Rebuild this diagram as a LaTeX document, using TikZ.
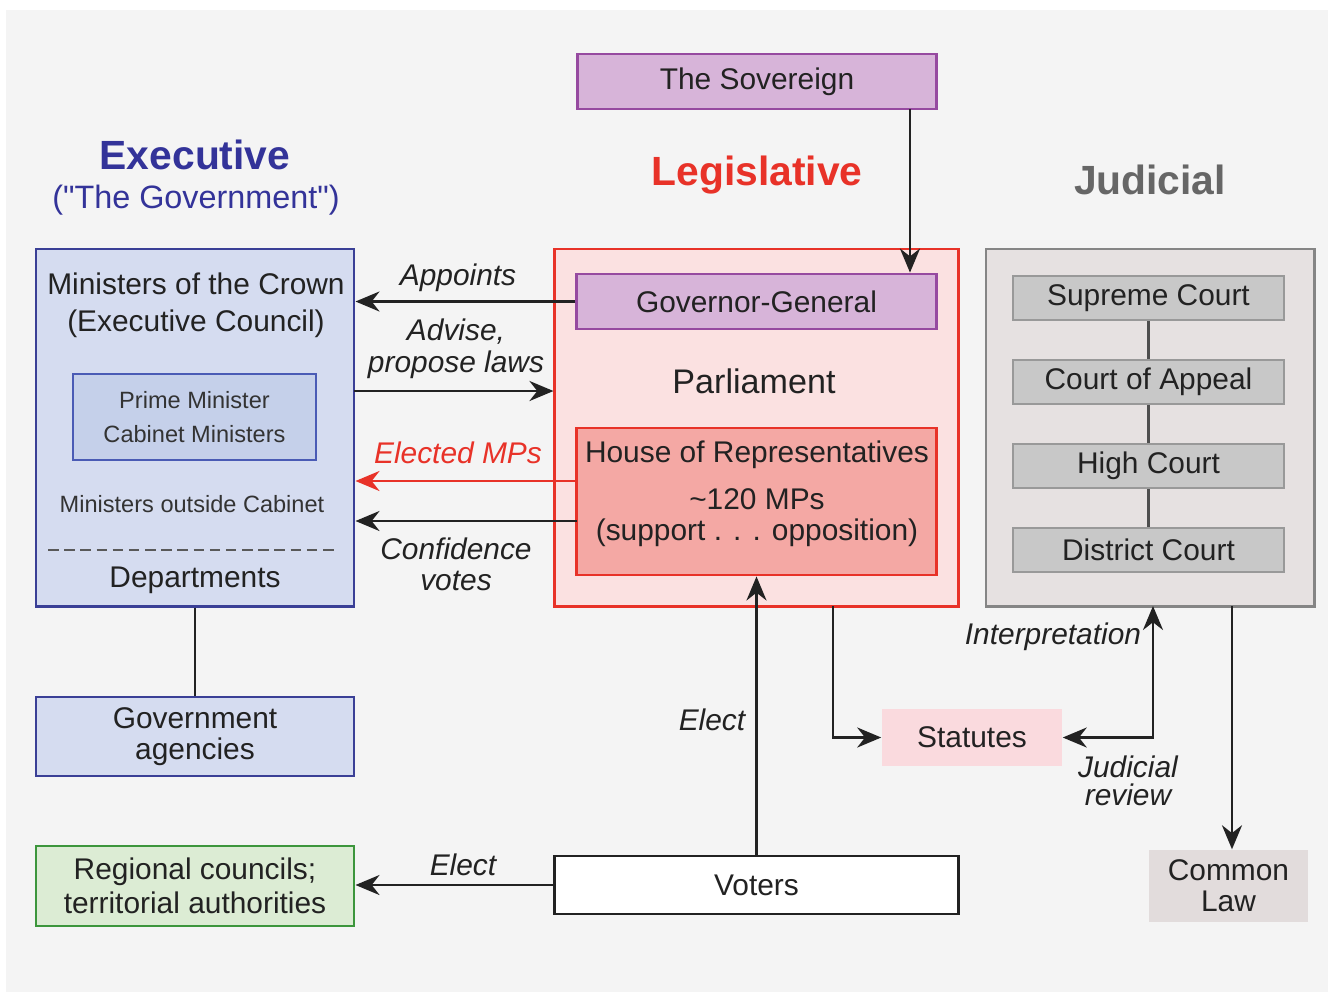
\documentclass[tikz,border=0pt]{standalone}
\usepackage{fontspec}
\setmainfont{Liberation Sans}
\newfontfamily\plainquotes{Liberation Sans}[Ligatures=TeXOff]
\usetikzlibrary{arrows.meta}

\definecolor{pagegrey}{HTML}{F4F4F4}
\definecolor{execfill}{HTML}{D5DCF0}
\definecolor{execline}{HTML}{3A3F96}
\definecolor{cabfill}{HTML}{C5D0EA}
\definecolor{cabline}{HTML}{4A5BB5}
\definecolor{royfill}{HTML}{D7B4D9}
\definecolor{royline}{HTML}{964AA0}
\definecolor{parlfill}{HTML}{FBE1E1}
\definecolor{parlred}{HTML}{E83228}
\definecolor{horfill}{HTML}{F4A8A4}
\definecolor{judfill}{HTML}{E6E1E1}
\definecolor{judline}{HTML}{858585}
\definecolor{courtfill}{HTML}{C8C8C8}
\definecolor{courtline}{HTML}{999999}
\definecolor{statfill}{HTML}{FADADE}
\definecolor{lawfill}{HTML}{E2DCDC}
\definecolor{regfill}{HTML}{DCECD4}
\definecolor{regline}{HTML}{3C963C}
\definecolor{titleblue}{HTML}{333399}
\definecolor{titlegrey}{HTML}{666666}
\definecolor{ink}{HTML}{222222}

\begin{document}
\begin{tikzpicture}[x=0.01cm, y=-0.01cm, >={Stealth[length=2.4mm,width=2mm]},
  every node/.style={font=\fontsize{8.5}{8.8}\selectfont, align=center, text=ink, inner sep=0pt},
  box/.style={draw, thick},
  court/.style={draw=courtline, fill=courtfill, thick, minimum width=2.71cm, minimum height=0.44cm},
  lab/.style={font=\fontsize{8.5}{8.8}\selectfont\itshape},
  small/.style={font=\fontsize{6.7}{9.9}\selectfont, text=black!80},
  heading/.style={font=\fontsize{11.6}{12}\selectfont\bfseries},
  conn/.style={->, line width=0.8pt, draw=ink}]

\useasboundingbox (0,0) rectangle (1332,996);
\fill[pagegrey] (6,10) rectangle (1328,992);

% titles
\node (exectitle) at (195,155) [heading, text=titleblue] {Executive};
\node (govtitle) at (196,200) [font=\plainquotes\fontsize{9.2}{10}\selectfont, text=titleblue] {("The Government")};
\node (legtitle) at (757,175) [heading, text=parlred] {Legislative};
\node (judtitle) at (1150,180) [heading, text=titlegrey] {Judicial};

% executive
\node (exec) at (195,427.5) [box, draw=execline, fill=execfill, minimum width=3.18cm, minimum height=3.57cm] {};
\node (crown) at (196,305) [font=\fontsize{8.5}{10.5}\selectfont] {Ministers of the Crown\\(Executive Council)};
\node (cabinet) at (194.5,417) [draw=cabline, fill=cabfill, thick, minimum width=2.43cm, minimum height=0.86cm, small] {Prime Minister\\Cabinet Ministers};
\node (outside) at (192,504) [small] {Ministers outside Cabinet};
\draw[black!65, line width=0.6pt, dash pattern=on 3pt off 1.6pt] (48,550) -- (335,550);
\node (depts) at (195,580) {Departments};
\node (agencies) at (195,736.5) [box, draw=execline, fill=execfill, minimum width=3.18cm, minimum height=0.79cm] {Government\\agencies};
\node (regional) at (195,886) [box, draw=regline, fill=regfill, minimum width=3.18cm, minimum height=0.80cm, font=\fontsize{8.5}{9.6}\selectfont] {Regional councils;\\territorial authorities};

% legislative
\node (sov) at (757,81.5) [box, draw=royline, fill=royfill, minimum width=3.58cm, minimum height=0.55cm] {The Sovereign};
\node (parl) at (756.5,427.5) [box, draw=parlred, fill=parlfill, minimum width=4.03cm, minimum height=3.57cm] {};
\node (gg) at (756.5,301.5) [box, draw=royline, fill=royfill, minimum width=3.59cm, minimum height=0.55cm] {Governor-General};
\node (parltext) at (754,381) [font=\fontsize{9.7}{10}\selectfont] {Parliament};
\node (hor) at (756.5,501.5) [box, draw=parlred, fill=horfill, minimum width=3.59cm, minimum height=1.47cm] {};
\node (hortitle) at (757,455) {House of Representatives};
\node (mps) at (757,518) {\textasciitilde120 MPs\\(support . . . opposition)};
\node (voters) at (756.5,885) [box, draw=ink, fill=white, minimum width=4.03cm, minimum height=0.58cm] {Voters};
\node (statutes) at (972,737.5) [fill=statfill, minimum width=1.80cm, minimum height=0.57cm] {Statutes};

% judicial
\node (jud) at (1150,427.5) [box, draw=judline, fill=judfill, minimum width=3.28cm, minimum height=3.57cm] {};
\node (supreme) at (1148.5,298) [court] {Supreme Court};
\node (appeal) at (1148.5,382) [court] {Court of Appeal};
\node (high) at (1148.5,466) [court] {High Court};
\node (district) at (1148.5,550) [court] {District Court};
\node (common) at (1228.5,886) [fill=lawfill, minimum width=1.59cm, minimum height=0.72cm] {Common\\Law};

\draw[ink!80, line width=0.7pt] (supreme) -- (appeal) -- (high) -- (district);

% connectors
\coordinate (sg) at (910,109);
\coordinate (adv) at (354,391);
\coordinate (mp) at (577,481);
\coordinate (conf) at (577,521);
\coordinate (ps) at (833,606);
\coordinate (ji) at (1153,606);
\coordinate (jc) at (1232,606);

\draw[conn] (sg) -- (sg |- gg.north);
\draw[conn] (gg.west) -- (gg.west -| exec.east);
\draw[conn] (adv) -- (adv -| parl.west);
\draw[conn, draw=parlred, parlred] (mp) -- (mp -| exec.east);
\draw[conn] (conf) -- (conf -| exec.east);
\draw[line width=0.8pt, draw=ink] (exec.south) -- (agencies.north);
\draw[conn] (voters.north) -- (hor.south);
\draw[conn] (voters.west) -- (voters.west -| regional.east);
\draw[conn] (ps) |- (statutes.west);
\draw[conn, <->] (statutes.east) -| (ji);
\draw[conn] (jc) -- (jc |- common.north);

% connector labels
\node (appoints) at (458,278) [lab] {Appoints};
\node (advise) at (456,349) [lab, font=\fontsize{8.5}{9}\selectfont\itshape] {Advise,\\propose laws};
\node (elected) at (458,453) [lab, text=parlred] {Elected MPs};
\node (confidence) at (456,564) [lab] {Confidence\\votes};
\node (electmp) at (712,720) [lab] {Elect};
\node (electreg) at (463,865) [lab] {Elect};
\node (interp) at (1053,637) [lab] {Interpretation};
\node (review) at (1128,781) [lab, font=\fontsize{8.5}{8}\selectfont\itshape] {Judicial\\review};
\end{tikzpicture}
\end{document}
